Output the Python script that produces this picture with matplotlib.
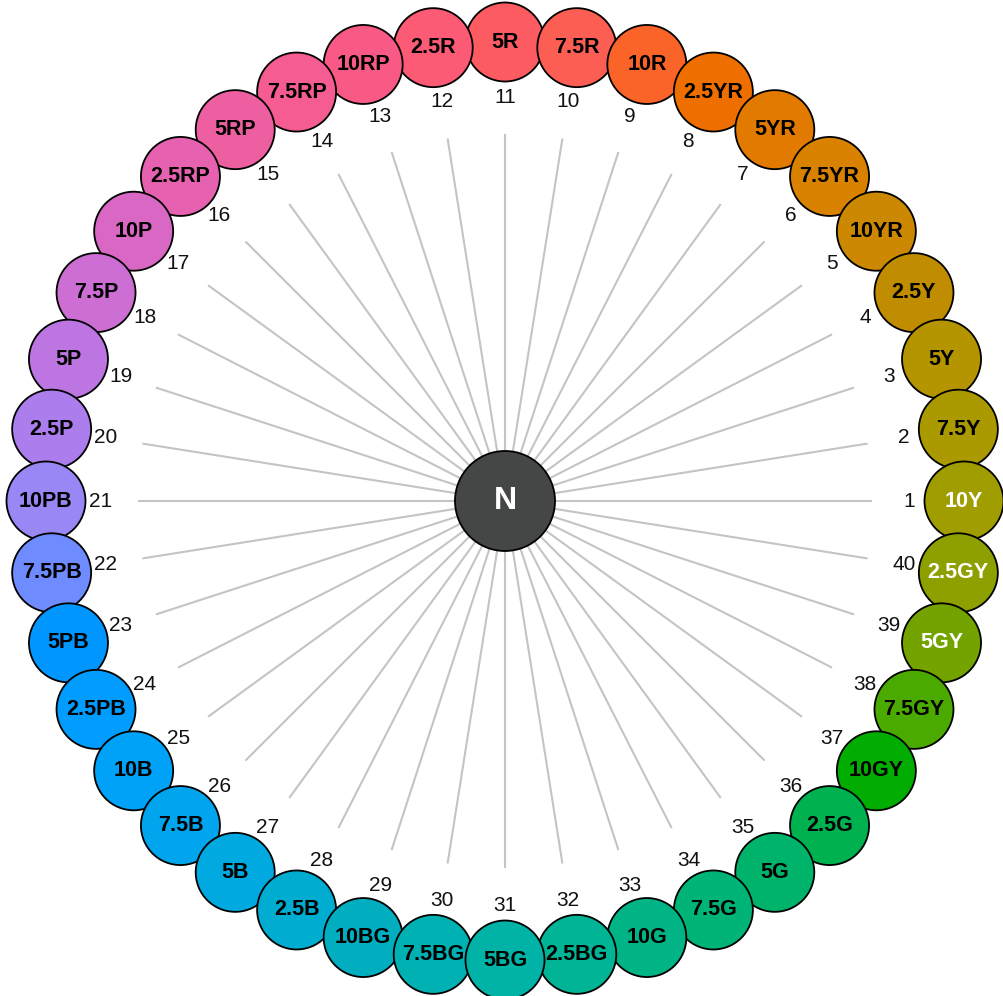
import numpy as np
import matplotlib.pyplot as plt
from matplotlib.patches import Circle

OUT_PNG = "out.png"

# hue names, counter-clockwise starting at 3 o'clock
HUES = ["10Y", "7.5Y", "5Y", "2.5Y", "10YR", "7.5YR", "5YR", "2.5YR", "10R", "7.5R",
        "5R", "2.5R", "10RP", "7.5RP", "5RP", "2.5RP", "10P", "7.5P", "5P", "2.5P",
        "10PB", "7.5PB", "5PB", "2.5PB", "10B", "7.5B", "5B", "2.5B", "10BG", "7.5BG",
        "5BG", "2.5BG", "10G", "7.5G", "5G", "2.5G", "10GY", "7.5GY", "5GY", "2.5GY"]
NUMBERS = list(range(1, 41))
FILLS = ["#A09D00", "#AA9A00", "#B49500", "#C08D00", "#CC8800", "#D98200", "#E37A00", "#EE6E00",
         "#FB6428", "#FD5E54", "#FD5B62", "#FC5A75", "#F95A85", "#F55C92", "#EE5FA1", "#E662B0",
         "#D967C4", "#CC6ED4", "#BD75E2", "#AC7DEC", "#9987F5", "#6E8CFF", "#0096FF", "#009DFE",
         "#00A2F8", "#00A5EE", "#00A9E0", "#00ACD0", "#00AEC0", "#00B1B4", "#00B3A6", "#00B495",
         "#00B485", "#00B478", "#00B36B", "#00B150", "#00AD00", "#4BAA00", "#74A300", "#8EA000"]
TEXT_COLORS = ["white" if h in ("10Y", "2.5GY", "5GY") else "black" for h in HUES]

CX, CY = 505, 495
R_CIRCLE = 459
R_NUM = 404
R_LINE = 366

fig = plt.figure(figsize=(10.04, 9.96), dpi=100)
ax = fig.add_axes([0, 0, 1, 1])
ax.set_xlim(0, 1004)
ax.set_ylim(0, 996)
ax.axis("off")

n = len(HUES)
for i, (hue, num, fc, tc) in enumerate(zip(HUES, NUMBERS, FILLS, TEXT_COLORS)):
    a = np.deg2rad(i * 360 / n)
    ca, sa = np.cos(a), np.sin(a)
    ax.plot([CX, CX + R_LINE * ca], [CY, CY + R_LINE * sa], color="#c4c4c4", lw=1.5, zorder=1)
    ax.text(CX + R_NUM * ca, CY + R_NUM * sa, str(num), ha="center", va="center",
            fontsize=15, family="Liberation Sans", color="#111111", zorder=2)
    x, y = CX + R_CIRCLE * ca, CY + R_CIRCLE * sa
    z = 10 + (1000 - y) / 100
    ax.add_patch(Circle((x, y), 39.5, facecolor=fc, edgecolor="black", lw=1.3, zorder=z))
    ax.text(x, y, hue, ha="center", va="center", fontsize=15.5, fontweight="bold",
            family="Liberation Sans", color=tc, zorder=z + 0.001)

ax.add_patch(Circle((CX, CY), 50, facecolor="#454746", edgecolor="black", lw=1.3, zorder=30))
ax.text(CX, CY, "N", ha="center", va="center", fontsize=23, fontweight="bold",
        family="Liberation Sans", color="white", zorder=31)

fig.savefig(OUT_PNG, dpi=100)
